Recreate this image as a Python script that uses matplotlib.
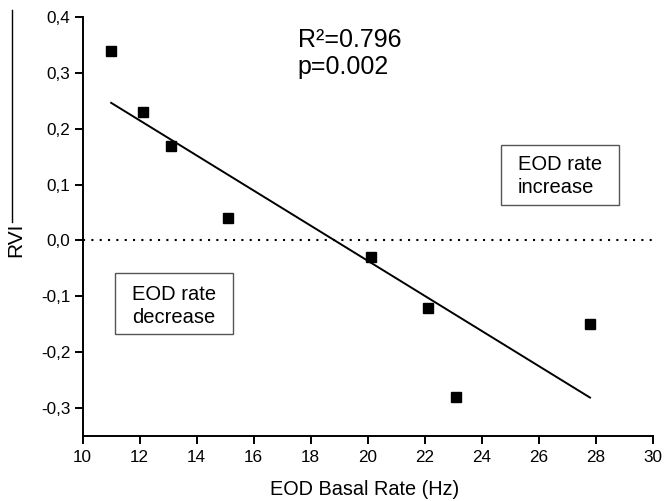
import numpy as np
import matplotlib
matplotlib.use("Agg")
import matplotlib.pyplot as plt
from matplotlib.lines import Line2D
from matplotlib.patches import Rectangle

plt.rcParams['font.family'] = ['Liberation Sans', 'DejaVu Sans']

basal_rate = [11.0, 12.1, 13.1, 15.1, 20.1, 22.1, 23.1, 27.8]
rvi = [0.34, 0.23, 0.17, 0.04, -0.03, -0.12, -0.28, -0.15]
x_ticks = [10, 12, 14, 16, 18, 20, 22, 24, 26, 28, 30]
y_ticks = [-0.3, -0.2, -0.1, 0.0, 0.1, 0.2, 0.3, 0.4]
y_tick_labels = ['-0,3', '-0,2', '-0,1', '0,0', '0,1', '0,2', '0,3', '0,4']

fig = plt.figure(figsize=(6.64, 5.01), dpi=100)
ax = fig.add_axes([0.1245, 0.1297, 0.8585, 0.8363])

x = np.array(basal_rate)
y = np.array(rvi)
slope, intercept = np.polyfit(x, y, 1)
xf = np.array([x.min(), x.max()])
ax.plot(xf, slope * xf + intercept, color='black', lw=1.4)

ax.axhline(0.0, color='black', lw=1.5, linestyle=(0, (1, 3)))
ax.plot(x, y, 's', color='black', ms=7)

ax.set_xlim(10, 30)
ax.set_ylim(-0.35, 0.4)
ax.set_xticks(x_ticks)
ax.set_yticks(y_ticks)
ax.set_yticklabels(y_tick_labels)
for s in ['top', 'right']:
    ax.spines[s].set_visible(False)
for s in ['left', 'bottom']:
    ax.spines[s].set_linewidth(1.4)
ax.tick_params(direction='out', length=6, width=1.4, pad=3)
ax.tick_params(axis='x', labelsize=12.3, pad=4)
ax.tick_params(axis='y', labelsize=12.3)

ax.set_xlabel('EOD Basal Rate (Hz)', fontsize=14.3, va='top')
ax.xaxis.set_label_coords(0.495, -0.105)
ax.set_ylabel('RVI', fontsize=15)
ax.yaxis.set_label_coords(-0.101, 0.468)

ax.text(17.55, 0.346, 'R²=0.796', fontsize=18, ha='left', va='baseline')
ax.text(17.55, 0.298, 'p=0.002', fontsize=18, ha='left', va='baseline')

ax.add_patch(Rectangle((24.68, 0.063), 28.82 - 24.68, 0.171 - 0.063,
                       fc='white', ec='#555555', lw=1, zorder=3))
ax.text(25.26, 0.126, 'EOD rate', fontsize=14.5, ha='left', va='baseline', zorder=4)
ax.text(25.26, 0.085, 'increase', fontsize=14.5, ha='left', va='baseline', zorder=4)

ax.add_patch(Rectangle((11.13, -0.167), 15.27 - 11.13, 0.167 - 0.058,
                       fc='white', ec='#555555', lw=1, zorder=3))
ax.text(11.73, -0.1066, 'EOD rate', fontsize=14.5, ha='left', va='baseline', zorder=4)
ax.text(11.73, -0.1478, 'decrease', fontsize=14.5, ha='left', va='baseline', zorder=4)

fig.add_artist(Line2D([12 / 664, 12 / 664], [1 - 10 / 501, 1 - 222 / 501],
                      transform=fig.transFigure, color='black', lw=1))

fig.savefig('out.png', dpi=100)
